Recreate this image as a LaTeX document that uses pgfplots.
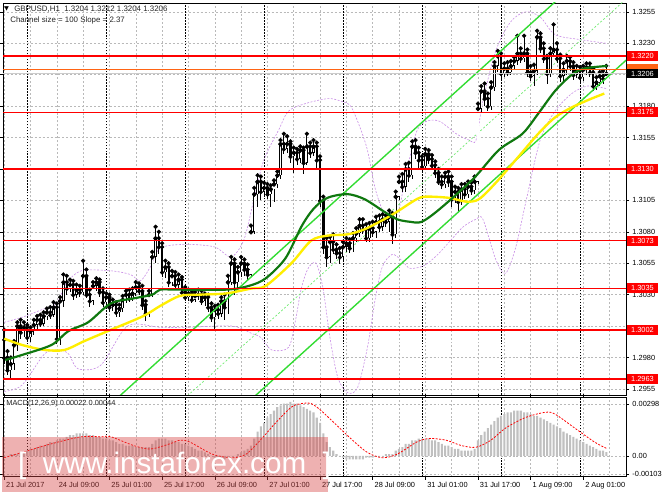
\documentclass[border=0pt]{standalone}
\usepackage{pgfplots}
\pgfplotsset{compat=1.18}
\usepackage{pgfplotstable}
\usepackage{fontspec}
\setmainfont{Liberation Sans}
\newfontfamily\dejavu{DejaVu Sans}
\definecolor{gridgray}{RGB}{185,185,185}
\definecolor{magreen}{RGB}{15,120,15}
\definecolor{mayellow}{RGB}{255,238,0}
\definecolor{chgreen}{RGB}{50,220,50}
\definecolor{chmid}{RGB}{110,235,110}
\definecolor{bbviolet}{RGB}{200,140,230}
\definecolor{lvlred}{RGB}{255,0,0}
\definecolor{histgray}{RGB}{192,192,192}
\definecolor{wmpink}{RGB}{215,70,70}
\definecolor{askorange}{RGB}{255,100,20}

\pgfplotstableread{
i o h l c
0 1.2994 1.3002 1.2975 1.2980
1 1.2980 1.2985 1.2966 1.2970
2 1.2970 1.2980 1.2962 1.2975
3 1.2975 1.2993 1.2970 1.2990
4 1.2990 1.3008 1.2985 1.3005
5 1.3005 1.3010 1.2995 1.3000
6 1.3000 1.3008 1.2996 1.3004
7 1.3004 1.3006 1.2993 1.2996
8 1.2996 1.3004 1.2992 1.3001
9 1.3001 1.3010 1.2998 1.3006
10 1.3006 1.3013 1.3003 1.3010
11 1.3010 1.3014 1.3004 1.3007
12 1.3007 1.3016 1.3005 1.3013
13 1.3013 1.3019 1.3010 1.3016
14 1.3016 1.3020 1.3011 1.3014
15 1.3014 1.3024 1.3012 1.3020
16 1.3020 1.3023 1.2991 1.2995
17 1.2995 1.3028 1.2990 1.3025
18 1.3025 1.3046 1.3020 1.3040
19 1.3040 1.3045 1.3030 1.3035
20 1.3035 1.3042 1.3032 1.3038
21 1.3038 1.3041 1.3026 1.3030
22 1.3030 1.3038 1.3027 1.3034
23 1.3034 1.3037 1.3028 1.3032
24 1.3032 1.3057 1.3030 1.3045
25 1.3045 1.3050 1.3027 1.3030
26 1.3030 1.3034 1.3020 1.3025
27 1.3025 1.3040 1.3022 1.3037
28 1.3037 1.3043 1.3033 1.3040
29 1.3040 1.3042 1.3028 1.3032
30 1.3032 1.3035 1.3020 1.3024
31 1.3024 1.3031 1.3020 1.3028
32 1.3028 1.3030 1.3016 1.3020
33 1.3020 1.3026 1.3017 1.3022
34 1.3022 1.3024 1.3012 1.3016
35 1.3016 1.3022 1.3012 1.3019
36 1.3019 1.3029 1.3016 1.3026
37 1.3026 1.3033 1.3023 1.3030
38 1.3030 1.3034 1.3024 1.3027
39 1.3027 1.3035 1.3025 1.3031
40 1.3031 1.3040 1.3029 1.3036
41 1.3036 1.3039 1.3030 1.3033
42 1.3033 1.3037 1.3018 1.3022
43 1.3022 1.3025 1.3009 1.3015
44 1.3015 1.3033 1.3012 1.3030
45 1.3030 1.3064 1.3028 1.3060
46 1.3060 1.3084 1.3055 1.3075
47 1.3075 1.3080 1.3062 1.3068
48 1.3068 1.3071 1.3044 1.3048
49 1.3048 1.3057 1.3043 1.3052
50 1.3052 1.3055 1.3036 1.3040
51 1.3040 1.3049 1.3037 1.3045
52 1.3045 1.3048 1.3034 1.3038
53 1.3038 1.3046 1.3035 1.3042
54 1.3042 1.3044 1.3028 1.3032
55 1.3032 1.3036 1.3025 1.3028
56 1.3028 1.3034 1.3025 1.3031
57 1.3031 1.3033 1.3023 1.3026
58 1.3026 1.3032 1.3024 1.3029
59 1.3029 1.3034 1.3026 1.3030
60 1.3030 1.3033 1.3022 1.3025
61 1.3025 1.3031 1.3021 1.3028
62 1.3028 1.3030 1.3016 1.3020
63 1.3020 1.3023 1.3008 1.3012
64 1.3012 1.3021 1.3001 1.3018
65 1.3018 1.3022 1.3011 1.3015
66 1.3015 1.3028 1.3012 1.3025
67 1.3025 1.3030 1.3010 1.3020
68 1.3020 1.3045 1.3015 1.3040
69 1.3040 1.3060 1.3038 1.3055
70 1.3055 1.3058 1.3030 1.3040
71 1.3040 1.3052 1.3035 1.3048
72 1.3048 1.3060 1.3044 1.3055
73 1.3055 1.3058 1.3045 1.3050
74 1.3050 1.3054 1.3042 1.3046
75 1.3046 1.3085 1.3044 1.3080
76 1.3080 1.3115 1.3078 1.3110
77 1.3110 1.3125 1.3100 1.3120
78 1.3120 1.3124 1.3105 1.3112
79 1.3112 1.3119 1.3108 1.3115
80 1.3115 1.3118 1.3106 1.3110
81 1.3110 1.3117 1.3100 1.3114
82 1.3114 1.3121 1.3104 1.3118
83 1.3118 1.3128 1.3115 1.3125
84 1.3125 1.3153 1.3122 1.3150
85 1.3150 1.3158 1.3142 1.3146
86 1.3146 1.3156 1.3143 1.3150
87 1.3150 1.3152 1.3135 1.3140
88 1.3140 1.3147 1.3127 1.3143
89 1.3143 1.3146 1.3133 1.3138
90 1.3138 1.3148 1.3135 1.3145
91 1.3145 1.3147 1.3126 1.3135
92 1.3135 1.3158 1.3133 1.3148
93 1.3148 1.3151 1.3139 1.3143
94 1.3143 1.3153 1.3140 1.3148
95 1.3148 1.3151 1.3130 1.3137
96 1.3137 1.3140 1.3100 1.3105
97 1.3105 1.3108 1.3062 1.3068
98 1.3068 1.3075 1.3052 1.3060
99 1.3060 1.3076 1.3055 1.3072
100 1.3072 1.3078 1.3062 1.3066
101 1.3066 1.3070 1.3058 1.3063
102 1.3063 1.3067 1.3054 1.3060
103 1.3060 1.3072 1.3057 1.3068
104 1.3068 1.3075 1.3064 1.3071
105 1.3071 1.3074 1.3063 1.3067
106 1.3067 1.3079 1.3064 1.3075
107 1.3075 1.3083 1.3072 1.3079
108 1.3079 1.3090 1.3076 1.3085
109 1.3085 1.3090 1.3078 1.3082
110 1.3082 1.3086 1.3072 1.3075
111 1.3075 1.3087 1.3072 1.3083
112 1.3083 1.3088 1.3076 1.3080
113 1.3080 1.3092 1.3075 1.3088
114 1.3088 1.3093 1.3080 1.3084
115 1.3084 1.3094 1.3081 1.3090
116 1.3090 1.3093 1.3084 1.3088
117 1.3088 1.3097 1.3080 1.3092
118 1.3092 1.3095 1.3070 1.3078
119 1.3078 1.3112 1.3075 1.3108
120 1.3108 1.3124 1.3105 1.3120
121 1.3120 1.3126 1.3112 1.3116
122 1.3116 1.3134 1.3112 1.3130
123 1.3130 1.3135 1.3120 1.3125
124 1.3125 1.3152 1.3122 1.3148
125 1.3148 1.3153 1.3138 1.3143
126 1.3143 1.3147 1.3131 1.3137
127 1.3137 1.3140 1.3128 1.3132
128 1.3132 1.3146 1.3129 1.3142
129 1.3142 1.3145 1.3134 1.3138
130 1.3138 1.3141 1.3130 1.3133
131 1.3133 1.3136 1.3123 1.3127
132 1.3127 1.3130 1.3117 1.3120
133 1.3120 1.3124 1.3114 1.3118
134 1.3118 1.3127 1.3115 1.3124
135 1.3124 1.3128 1.3116 1.3120
136 1.3120 1.3124 1.3100 1.3106
137 1.3106 1.3116 1.3103 1.3112
138 1.3112 1.3115 1.3096 1.3104
139 1.3104 1.3118 1.3101 1.3114
140 1.3114 1.3118 1.3106 1.3110
141 1.3110 1.3120 1.3107 1.3116
142 1.3116 1.3119 1.3109 1.3113
143 1.3113 1.3124 1.3110 1.3120
144 1.3120 1.3182 1.3118 1.3178
145 1.3178 1.3196 1.3175 1.3192
146 1.3192 1.3198 1.3180 1.3186
147 1.3186 1.3190 1.3176 1.3180
148 1.3180 1.3199 1.3177 1.3195
149 1.3195 1.3215 1.3192 1.3212
150 1.3212 1.3224 1.3207 1.3220
151 1.3220 1.3222 1.3201 1.3206
152 1.3206 1.3214 1.3203 1.3210
153 1.3210 1.3215 1.3204 1.3207
154 1.3207 1.3216 1.3205 1.3212
155 1.3212 1.3219 1.3209 1.3216
156 1.3216 1.3236 1.3213 1.3222
157 1.3222 1.3226 1.3214 1.3218
158 1.3218 1.3236 1.3215 1.3222
159 1.3222 1.3225 1.3203 1.3207
160 1.3207 1.3212 1.3200 1.3204
161 1.3204 1.3213 1.3196 1.3208
162 1.3208 1.3240 1.3205 1.3235
163 1.3235 1.3238 1.3222 1.3226
164 1.3226 1.3230 1.3214 1.3218
165 1.3218 1.3220 1.3198 1.3206
166 1.3206 1.3226 1.3203 1.3222
167 1.3222 1.3245 1.3219 1.3225
168 1.3225 1.3230 1.3214 1.3218
169 1.3218 1.3221 1.3199 1.3204
170 1.3204 1.3214 1.3200 1.3209
171 1.3209 1.3220 1.3205 1.3216
172 1.3216 1.3219 1.3208 1.3212
173 1.3212 1.3215 1.3201 1.3205
174 1.3205 1.3212 1.3202 1.3208
175 1.3208 1.3211 1.3199 1.3203
176 1.3203 1.3212 1.3200 1.3209
177 1.3209 1.3214 1.3205 1.3211
178 1.3211 1.3214 1.3203 1.3207
179 1.3207 1.3210 1.3192 1.3196
180 1.3196 1.3203 1.3193 1.3199
181 1.3199 1.3207 1.3196 1.3204
182 1.3204 1.3208 1.3198 1.3202
183 1.3204 1.3212 1.3204 1.3206
}\candles

\pgfplotstableread{
i m
0 0.0000
1 0.0000
2 0.0001
3 0.0001
4 0.0001
5 0.0002
6 0.0002
7 0.0003
8 0.0004
9 0.0004
10 0.0005
11 0.0006
12 0.0006
13 0.0007
14 0.0008
15 0.0008
16 0.0009
17 0.0010
18 0.0010
19 0.0011
20 0.0012
21 0.0012
22 0.0013
23 0.0013
24 0.0013
25 0.0013
26 0.0012
27 0.0012
28 0.0011
29 0.0011
30 0.0010
31 0.0010
32 0.0009
33 0.0009
34 0.0008
35 0.0007
36 0.0007
37 0.0006
38 0.0006
39 0.0006
40 0.0005
41 0.0005
42 0.0005
43 0.0005
44 0.0005
45 0.0007
46 0.0009
47 0.0010
48 0.0010
49 0.0010
50 0.0009
51 0.0009
52 0.0008
53 0.0008
54 0.0007
55 0.0007
56 0.0006
57 0.0005
58 0.0004
59 0.0003
60 0.0003
61 0.0002
62 0.0001
63 0.0000
64 -0.0001
65 -0.0001
66 -0.0002
67 -0.0002
68 -0.0001
69 0.0000
70 0.0000
71 0.0001
72 0.0002
73 0.0003
74 0.0004
75 0.0006
76 0.0010
77 0.0014
78 0.0017
79 0.0019
80 0.0022
81 0.0024
82 0.0026
83 0.0028
84 0.0029
85 0.0030
86 0.0030
87 0.0031
88 0.0030
89 0.0030
90 0.0029
91 0.0028
92 0.0027
93 0.0026
94 0.0025
95 0.0022
96 0.0019
97 0.0013
98 0.0008
99 0.0005
100 0.0003
101 0.0001
102 0.0000
103 -0.0001
104 -0.0002
105 -0.0002
106 -0.0002
107 -0.0002
108 -0.0002
109 -0.0002
110 -0.0001
111 -0.0001
112 -0.0001
113 0.0000
114 0.0000
115 0.0000
116 0.0001
117 0.0001
118 0.0001
119 0.0003
120 0.0004
121 0.0005
122 0.0007
123 0.0007
124 0.0009
125 0.0009
126 0.0010
127 0.0010
128 0.0010
129 0.0010
130 0.0009
131 0.0009
132 0.0008
133 0.0007
134 0.0006
135 0.0006
136 0.0005
137 0.0004
138 0.0004
139 0.0003
140 0.0003
141 0.0003
142 0.0003
143 0.0004
144 0.0009
145 0.0012
146 0.0014
147 0.0016
148 0.0018
149 0.0020
150 0.0022
151 0.0023
152 0.0024
153 0.0025
154 0.0025
155 0.0026
156 0.0026
157 0.0026
158 0.0025
159 0.0025
160 0.0024
161 0.0023
162 0.0023
163 0.0022
164 0.0021
165 0.0020
166 0.0019
167 0.0018
168 0.0017
169 0.0016
170 0.0014
171 0.0013
172 0.0012
173 0.0011
174 0.0010
175 0.0009
176 0.0008
177 0.0007
178 0.0006
179 0.0005
180 0.0004
181 0.0003
182 0.0003
183 0.00022
}\macd

\pgfplotsset{
  chartgrid/.style={
    grid=both,
    major grid style={color=gridgray, dash pattern=on 2pt off 2pt, line width=0.5pt},
    minor grid style={color=gridgray, dash pattern=on 2pt off 2pt, line width=0.5pt},
    minor xtick={8,24,...,184}, minor tick length=0pt,
    extra x ticks={7,31,55,79,103,127,151,175}, extra x tick labels={},
    extra x tick style={grid=major, major grid style={black, dash pattern=on 1.5pt off 1.5pt, line width=0.7pt}, major tick length=0pt},
  },
}
\tikzset{
  lbl/.style={anchor=west, xshift=0.5pt, inner sep=0pt, minimum width=32pt, minimum height=10pt, text=white, font=\fontsize{7.5}{8}\selectfont},
}

\begin{document}
\begin{tikzpicture}
\fill[white] (0pt,0pt) rectangle (665pt,-499pt);

% ---------------- main price panel ----------------
\begin{axis}[
  at={(1pt,-1pt)}, anchor=north west, scale only axis,
  width=631pt, height=397pt,
  xmin=-0.3, xmax=189.0, ymin=1.29503, ymax=1.32621,
  axis line style={black, line width=0.6pt},
  scaled ticks=false,
  xtick={0,16,...,176}, xticklabels={}, major x tick style={draw=none},
  chartgrid,
  ytick={1.2955,1.2980,1.3005,1.3030,1.3055,1.3080,1.3105,1.3130,1.3155,1.3180,1.3205,1.3230,1.3255},
  yticklabels={1.2955,1.2980,,1.3030,1.3055,1.3080,1.3105,,1.3155,1.3180,,1.3230,1.3255},
  yticklabel pos=right, tick align=outside, major tick length=3pt,
  major y tick style={black, line width=0.5pt},
  yticklabel style={font=\fontsize{7.5}{8}\selectfont, xshift=0pt},
  clip mode=individual,
]
% Bollinger bands
\addplot[bbviolet, line width=0.6pt, dash pattern=on 2pt off 1.5pt, smooth] coordinates {
(0,1.3008) (5.4,1.3012) (11.4,1.3018) (15.9,1.3023) (18.9,1.3039) (23.4,1.3049) (32.4,1.3049) (38.4,1.3046) (41.4,1.3041) (44.4,1.3052) (47.4,1.3067) (54.9,1.3070) (63.9,1.3068) (69,1.3060) (72.9,1.3074) (75.9,1.3106) (78.9,1.3137) (83.4,1.3161) (86.4,1.3176) (91.5,1.3182) (98.4,1.3186) (102.3,1.3184) (105.3,1.3180) (108,1.3164) (110.4,1.3145) (112.8,1.3114) (115.5,1.3094) (117.9,1.3089) (120,1.3098) (122.4,1.3129) (125.4,1.3160) (128.4,1.3168) (132.3,1.3168) (137.4,1.3158) (141.3,1.3153) (143.4,1.3153) (145.5,1.3184) (149.4,1.3224) (153.9,1.3247) (158.4,1.3255) (162.9,1.3251) (167.4,1.3237) (174.9,1.3233) (183,1.3230)};
\addplot[bbviolet, line width=0.6pt, dash pattern=on 2pt off 1.5pt, smooth] coordinates {
(0,1.2953) (5.4,1.2958) (12.3,1.2983) (16.5,1.2986) (19.5,1.2983) (22.5,1.2971) (29.4,1.2974) (37.5,1.3005) (47.4,1.3004) (55.5,1.3004) (69.3,1.3005) (75.3,1.2999) (78,1.2996) (81.3,1.2986) (86.4,1.2988) (88.5,1.3009) (90.3,1.3035) (92.4,1.3051) (94.8,1.3055) (96.9,1.3035) (99,1.2996) (101.4,1.2964) (104.4,1.2952) (107.4,1.2956) (110.4,1.2988) (112.8,1.3027) (114.9,1.3052) (117.9,1.3062) (120.9,1.3057) (123.3,1.3051) (127.5,1.3053) (131.4,1.3061) (135.3,1.3072) (139.5,1.3084) (143.4,1.3090) (145.5,1.3090) (149.4,1.3058) (152.4,1.3047) (155.4,1.3067) (158.4,1.3102) (162.9,1.3153) (167.4,1.3176) (172.5,1.3190) (177.3,1.3196) (183,1.3194)};
% channel
\addplot[chmid, line width=0.7pt, dash pattern=on 2pt off 2pt] coordinates {(50.4,1.29369) (191.4,1.32709)};
% candles: wicks
\addplot[only marks, mark=none, error bars/.cd, y dir=both, y explicit, error mark=none,
  error bar style={black, line width=0.8pt}]
  table[x=i, y=h, y error plus expr=0, y error minus expr={\thisrow{h}-\thisrow{l}}] {\candles};
% candles: bodies
\addplot[only marks, mark=none, error bars/.cd, y dir=both, y explicit, error mark=none,
  error bar style={black, line width=2.4pt}]
  table[x=i, y expr={max(\thisrow{o},\thisrow{c})}, y error plus expr=0, y error minus expr={max(abs(\thisrow{o}-\thisrow{c}),0.00003)}] {\candles};
% bull bodies hollow
\addplot[only marks, mark=none, error bars/.cd, y dir=both, y explicit, error mark=none,
  error bar style={white, line width=1.1pt}]
  table[x=i, y expr={\thisrow{c}-0.00004}, y error plus expr=0, y error minus expr={max(\thisrow{c}-\thisrow{o}-0.00008,0)}] {\candles};
% channel solid lines
\addplot[chgreen, line width=1.4pt] coordinates {(29.4,1.29359) (179.4,1.32913)};
\addplot[chgreen, line width=1.4pt] coordinates {(71.4,1.29379) (191.4,1.32222)};
% moving averages
\addplot[mayellow, line width=2.4pt, smooth] coordinates {
(0,1.2995) (5.4,1.2990) (12.3,1.2986) (18.3,1.2986) (24.3,1.2993) (32.4,1.3002) (42.3,1.3013) (47.4,1.3021) (53.4,1.3029) (59.4,1.3030) (67.5,1.3031) (75.3,1.3035) (79.5,1.3037) (87.3,1.3055) (93.3,1.3073) (98.4,1.3077) (104.4,1.3078) (109.5,1.3082) (115.5,1.3090) (119.4,1.3096) (125.4,1.3106) (128.4,1.3108) (135.3,1.3107) (140.4,1.3104) (144.3,1.3106) (149.4,1.3119) (155.4,1.3137) (162.3,1.3158) (167.4,1.3171) (172.5,1.3179) (178.5,1.3186) (182.4,1.3190)};
\addplot[magreen, line width=2.2pt, smooth] coordinates {
(0.3,1.2978) (5.4,1.2982) (14.4,1.2990) (19.5,1.3001) (25.5,1.3008) (32.4,1.3023) (39.3,1.3027) (45,1.3030) (47.4,1.3034) (52.5,1.3034) (67.5,1.3034) (74.4,1.3037) (79.5,1.3043) (85.5,1.3059) (90.3,1.3084) (93.3,1.3096) (96.3,1.3104) (99.3,1.3108) (104.4,1.3110) (109.5,1.3106) (115.5,1.3096) (119.4,1.3090) (123.3,1.3088) (126.9,1.3088) (132.3,1.3098) (142.5,1.3122) (150.3,1.3145) (157.5,1.3158) (162.3,1.3174) (167.4,1.3192) (172.5,1.3205) (176.4,1.3210) (183.3,1.3212)};
% levels
\addplot[lvlred, line width=1.6pt] coordinates {(-1,1.3220) (190,1.3220)};
\addplot[lvlred, line width=1.6pt] coordinates {(-1,1.3175) (190,1.3175)};
\addplot[lvlred, line width=1.6pt] coordinates {(-1,1.3130) (190,1.3130)};
\addplot[lvlred, line width=1.6pt] coordinates {(-1,1.3073) (190,1.3073)};
\addplot[lvlred, line width=1.6pt] coordinates {(-1,1.3035) (190,1.3035)};
\addplot[lvlred, line width=1.6pt] coordinates {(-1,1.3002) (190,1.3002)};
\addplot[lvlred, line width=1.6pt] coordinates {(-1,1.2963) (190,1.2963)};
\addplot[askorange, line width=0.6pt] coordinates {(-1,1.3209) (190,1.3209)};
\addplot[gray!40, line width=1.2pt] coordinates {(-1,1.3206) (190,1.3206)};
% right-hand labels
\node[lbl, fill=lvlred] at (axis cs:189.0,1.3220) {1.3220};
\node[lbl, fill=lvlred] at (axis cs:189.0,1.3175) {1.3175};
\node[lbl, fill=lvlred] at (axis cs:189.0,1.3130) {1.3130};
\node[lbl, fill=lvlred] at (axis cs:189.0,1.3073) {1.3073};
\node[lbl, fill=lvlred] at (axis cs:189.0,1.3035) {1.3035};
\node[lbl, fill=lvlred] at (axis cs:189.0,1.3002) {1.3002};
\node[lbl, fill=lvlred] at (axis cs:189.0,1.2963) {1.2963};
\node[lbl, fill=askorange] at (axis cs:189.0,1.32095) {};
\node[lbl, fill=black] at (axis cs:189.0,1.3206) {1.3206};
\end{axis}

% ---------------- MACD panel ----------------
\begin{axis}[
  at={(1pt,-400pt)}, anchor=north west, scale only axis,
  width=631pt, height=81pt,
  xmin=-0.3, xmax=189.0, ymin=-0.00119, ymax=0.00339,
  axis line style={black, line width=0.6pt},
  scaled ticks=false,
  xtick={0,16,...,176},
  xticklabels={21 Jul 2017,24 Jul 09:00,25 Jul 01:00,25 Jul 17:00,26 Jul 09:00,27 Jul 01:00,27 Jul 17:00,28 Jul 09:00,31 Jul 01:00,31 Jul 17:00,1 Aug 09:00,2 Aug 01:00},
  xticklabel style={anchor=north west, xshift=-1.5pt, yshift=1pt, font=\fontsize{7.5}{8}\selectfont},
  chartgrid,
  ytick={-0.00103,0,0.00298},
  yticklabels={-0.00103,0.00,0.00298},
  yticklabel pos=right, tick align=outside, major tick length=3pt,
  tick style={black, line width=0.5pt},
  yticklabel style={font=\fontsize{7.5}{8}\selectfont},
  clip mode=individual,
]
\addplot[ybar, bar width=2.1pt, fill=histgray, draw=none] table[x=i, y=m] {\macd};
\addplot[lvlred, line width=0.8pt, dash pattern=on 2pt off 1.5pt, smooth] coordinates {
(0,-0.0001) (5.4,0.0002) (14.4,0.0007) (23.4,0.0011) (29.4,0.0011) (32.4,0.0011) (39.3,0.0006) (44.4,0.0004) (50.4,0.0007) (53.4,0.0009) (56.4,0.0008) (63.3,0.0001) (69.3,-0.0001) (73.5,0.0001) (78.3,0.0010) (82.5,0.0019) (87.3,0.0028) (90.3,0.0030) (93.3,0.0030) (96.3,0.0026) (101.4,0.0017) (105.9,0.0009) (110.4,0.0002) (114.9,-0.0001) (119.4,0.0001) (125.4,0.0008) (129.3,0.0010) (134.4,0.0009) (138.9,0.0006) (143.4,0.0005) (147.9,0.0009) (152.4,0.0016) (158.4,0.0022) (164.4,0.0025) (167.4,0.0024) (173.4,0.0016) (179.4,0.0008) (183.0,0.00044)};
\end{axis}

% texts
\node[anchor=west, inner sep=0pt, font=\dejavu\fontsize{6}{6}\selectfont] at (2pt,-7pt) {▼};
\node[anchor=west, inner sep=0pt, font=\fontsize{8}{9}\selectfont, text=black!85] at (12pt,-7pt) {GBPUSD,H1\ \ 1.3204 1.3212 1.3204 1.3206};
\node[anchor=west, inner sep=0pt, font=\fontsize{8}{9}\selectfont, text=black!85] at (8pt,-19pt) {Channel size = 100 Slope = 2.37};
\node[anchor=west, inner sep=0pt, font=\fontsize{7.5}{8}\selectfont, text=black!85] at (4pt,-407pt) {MACD(12,26,9) 0.00022 0.00044};

% watermark
\fill[wmpink, opacity=0.42] (0pt,-441pt) rectangle (330pt,-496pt);
\node[anchor=base west, inner sep=0pt, text=white, font=\fontsize{30}{30}\selectfont] at (16pt,-478pt) {[\ \ www.instaforex.com\ \ ]};
\end{tikzpicture}
\end{document}
